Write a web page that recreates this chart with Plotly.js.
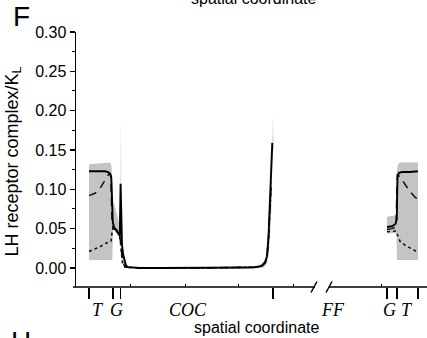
<!DOCTYPE html>
<html>
<head>
<meta charset="utf-8">
<script src="https://cdn.plot.ly/plotly-3.0.1.min.js"></script>
<style>html,body{margin:0;padding:0;background:#fff}#chart{width:427px;height:338px}</style>
</head>
<body>
<div id="chart"></div>
<script>
// ---- data (spatial coordinate in arbitrary units, value = LH receptor complex / K_L) ----
var solidLeftX = [89, 95, 100, 105, 108, 110, 111.3, 112.2, 112.8, 114, 116, 118, 119.8, 120.6, 121.3, 122, 123, 124.5, 126, 128, 132, 140, 160, 180, 200, 220, 240, 252, 258, 262, 265, 267, 268.5, 270, 271.2, 272.3];
var solidLeftY = [0.123, 0.123, 0.123, 0.123, 0.122, 0.120, 0.115, 0.090, 0.058, 0.052, 0.048, 0.044, 0.041, 0.107, 0.040, 0.030, 0.018, 0.008, 0.003, 0.001, 0.0005, 0, 0, 0, 0, 0, 0, 0.0005, 0.0015, 0.003, 0.007, 0.015, 0.040, 0.080, 0.110, 0.159];
var solidRightX = [387, 392, 395.5, 396.8, 397.2, 397.6, 399, 402, 410, 418];
var solidRightY = [0.052, 0.053, 0.056, 0.062, 0.100, 0.117, 0.121, 0.122, 0.122, 0.123];

var dashLeftX = [89, 95, 100, 104, 107, 109, 110.8, 112, 113, 116, 118, 120, 121.5, 123, 126, 140, 200, 255, 262, 265, 267, 268.5, 270, 271.2];
var dashLeftY = [0.092, 0.095, 0.101, 0.109, 0.116, 0.120, 0.118, 0.060, 0.050, 0.049, 0.047, 0.040, 0.020, 0.006, 0.001, 0, 0, 0.001, 0.003, 0.006, 0.014, 0.038, 0.078, 0.108];
var dashRightX = [387, 392, 396, 397.3, 400, 405, 410, 415, 418];
var dashRightY = [0.049, 0.050, 0.052, 0.118, 0.116, 0.106, 0.097, 0.090, 0.087];

var dotLeftX = [89, 95, 100, 105, 108, 111, 112, 113, 116, 119, 120.5, 121.3, 122.5, 125, 140, 200, 255, 262, 265, 267, 268.5, 270, 271.2];
var dotLeftY = [0.021, 0.024, 0.027, 0.031, 0.033, 0.034, 0.045, 0.050, 0.048, 0.044, 0.032, 0.018, 0.006, 0.001, 0, 0, 0.001, 0.003, 0.006, 0.014, 0.036, 0.075, 0.105];
var dotRightX = [387, 392, 396, 397.5, 400, 405, 410, 415, 418];
var dotRightY = [0.046, 0.047, 0.047, 0.042, 0.034, 0.029, 0.026, 0.022, 0.020];

// grey variability band (upper / lower envelope)
var bandLeftX  = [89, 100, 108, 110, 111.5, 112.3, 113, 116, 119, 120.3, 120.9, 121.5, 122.5, 124, 126, 130, 140, 200, 250, 258, 262, 265, 267, 269, 270.5, 271.8, 272.3, 272.9, 273.6];
var bandLeftHi = [0.132, 0.133, 0.134, 0.134, 0.130, 0.095, 0.085, 0.072, 0.058, 0.050, 0.192, 0.045, 0.030, 0.012, 0.004, 0.002, 0.001, 0.001, 0.001, 0.003, 0.006, 0.011, 0.020, 0.045, 0.085, 0.125, 0.150, 0.192, 0.150];
var bandLeftLo = [0.010, 0.010, 0.010, 0.010, 0.010, 0.010, 0.050, 0.045, 0.040, 0.035, 0.035, 0.030, 0.010, 0.000, 0, 0, 0, 0, 0, 0, 0, 0.002, 0.006, 0.020, 0.050, 0.090, 0.130, 0.150, 0.150];
var bandRightX  = [387, 392, 396.5, 397, 398, 400, 405, 410, 415, 418];
var bandRightHi = [0.065, 0.066, 0.067, 0.125, 0.132, 0.134, 0.134, 0.134, 0.134, 0.134];
var bandRightLo = [0.044, 0.044, 0.044, 0.010, 0.010, 0.010, 0.010, 0.010, 0.010, 0.010];

// axis annotations
var yTickVals = [0, 0.05, 0.10, 0.15, 0.20, 0.25, 0.30];
var xMajorTicks = [89, 113, 120.5, 273, 387, 397, 418];
var xMinorTicks = [130, 185, 238, 293, 381];
var regionLabels = ['T', 'G', 'COC', 'FF', 'G', 'T'];
var regionLabelX = [97.5, 116, 187.5, 333, 389, 407];
var axisBreak = [315, 329];

// ---- helpers ----
function joinSeg(a, b) { return a.concat([null], b); }
function poly(x, hi, lo) {
  return { x: x.concat(x.slice().reverse()), y: hi.concat(lo.slice().reverse()) };
}
var pL = poly(bandLeftX, bandLeftHi, bandLeftLo);
var pR = poly(bandRightX, bandRightHi, bandRightLo);

var X0 = 76, X1 = 427;
function px(v) { return (v - X0) / (X1 - X0); }

var traces = [
  { x: pL.x.concat([null], pR.x), y: pL.y.concat([null], pR.y), type: 'scatter', mode: 'lines',
    fill: 'toself', fillcolor: '#c4c4c4', line: { width: 0, color: '#c4c4c4' }, hoverinfo: 'skip' },
  { x: joinSeg(dotLeftX, dotRightX), y: joinSeg(dotLeftY, dotRightY), type: 'scatter', mode: 'lines',
    line: { color: '#111', width: 1.6, dash: 'dot' } },
  { x: joinSeg(dashLeftX, dashRightX), y: joinSeg(dashLeftY, dashRightY), type: 'scatter', mode: 'lines',
    line: { color: '#111', width: 1.5, dash: '8px,6px' } },
  { x: joinSeg(solidLeftX, solidRightX), y: joinSeg(solidLeftY, solidRightY), type: 'scatter', mode: 'lines',
    line: { color: '#000', width: 1.9 } }
];

var serif = { family: 'Liberation Serif, Times New Roman, serif', size: 18, color: '#000', style: 'italic' };
var annotations = [];
for (var i = 0; i < regionLabels.length; i++) {
  annotations.push({ xref: 'x', yref: 'paper', x: regionLabelX[i], y: -0.092, text: regionLabels[i],
    showarrow: false, xanchor: 'center', yanchor: 'middle', font: serif });
}
annotations.push({ xref: 'x', yref: 'paper', x: 257, y: -0.157, text: 'spatial coordinate', showarrow: false,
  xanchor: 'center', yanchor: 'middle', font: { family: 'Arial, Liberation Sans', size: 16, color: '#000' } });
annotations.push({ xref: 'x', yref: 'paper', x: 254, y: 1.132, text: 'spatial coordinate', showarrow: false,
  xanchor: 'center', yanchor: 'middle', font: { family: 'Arial, Liberation Sans', size: 16, color: '#000' } });
annotations.push({ xref: 'paper', yref: 'paper', x: px(13), y: (287 - 161.5) / 255, text: 'LH receptor complex/K<sub>L</sub>',
  textangle: -90, showarrow: false, xanchor: 'center', yanchor: 'middle', font: { family: 'Arial, Liberation Sans', size: 18, color: '#000' } });
annotations.push({ xref: 'paper', yref: 'paper', x: px(21.5), y: (287 - 17) / 255, text: 'F', showarrow: false,
  xanchor: 'center', yanchor: 'middle', font: { family: 'Arial, Liberation Sans', size: 28, color: '#000' } });
annotations.push({ xref: 'paper', yref: 'paper', x: px(21.5), y: (287 - 341) / 255, text: 'H', showarrow: false,
  xanchor: 'center', yanchor: 'middle', font: { family: 'Arial, Liberation Sans', size: 28, color: '#000' } });

var ax = { type: 'line', xref: 'paper', yref: 'paper', line: { color: '#000', width: 1.5 } };
function seg(a, b, y0, y1) { return Object.assign({}, ax, { x0: a, x1: b, y0: y0, y1: y1 }); }
var s = 5.5 / 255;
var shapes = [
  seg(px(73), px(axisBreak[0]), 0, 0),
  seg(px(axisBreak[1]), px(X1) + 0.01, 0, 0),
  seg(px(axisBreak[0] - 4), px(axisBreak[0] + 2), -s, s),
  seg(px(axisBreak[1] - 3), px(axisBreak[1] + 3), -s, s)
];

var layout = {
  width: 427, height: 338,
  margin: { l: 76, r: 0, t: 32, b: 51, pad: 0 },
  paper_bgcolor: '#fff', plot_bgcolor: '#fff',
  showlegend: false,
  font: { family: 'Arial, Liberation Sans', size: 15, color: '#000' },
  xaxis: {
    range: [X0, X1], showline: false, zeroline: false, showgrid: false,
    tickmode: 'array', tickvals: xMajorTicks, ticks: 'outside', ticklen: 11, tickwidth: 1.5, tickcolor: '#000',
    showticklabels: false,
    minor: { tickmode: 'array', tickvals: xMinorTicks, ticks: 'inside', ticklen: 3, tickwidth: 1, tickcolor: '#000' }
  },
  yaxis: {
    range: [-0.0242, 0.30], showline: true, linecolor: '#000', linewidth: 1.5, zeroline: false, showgrid: false,
    tickmode: 'array', tickvals: yTickVals, tickformat: '.2f', ticks: 'outside', ticklen: 5, tickwidth: 1.5, tickcolor: '#000',
    tickfont: { size: 16 },
    minor: { dtick: 0.025, tick0: 0.025, ticks: 'outside', ticklen: 3, tickwidth: 1, tickcolor: '#000' }
  },
  annotations: annotations,
  shapes: shapes
};

Plotly.newPlot('chart', traces, layout, { staticPlot: true, displayModeBar: false });
</script>
</body>
</html>
